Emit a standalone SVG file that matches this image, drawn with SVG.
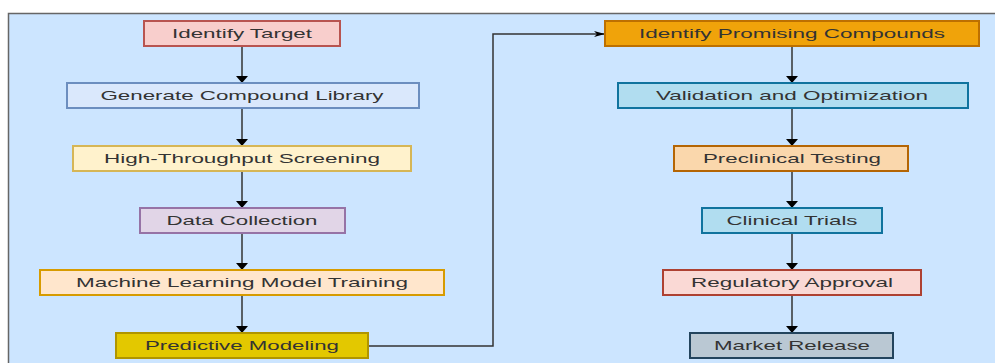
<svg xmlns="http://www.w3.org/2000/svg" width="995" height="363" viewBox="0 0 995 363">
<defs>
<style>
.bx{stroke-width:2}
.t{font-family:"Liberation Sans",Arial,sans-serif;font-size:13px;fill:#333;text-anchor:middle}
.c{stroke:#333;stroke-width:1.5;fill:none}
</style>
<marker id="av" markerUnits="userSpaceOnUse" markerWidth="12" markerHeight="7" refX="6" refY="7" orient="0" viewBox="0 0 12 7"><path d="M0,0 L12,0 L6,7 Z" fill="#000"/></marker>
<marker id="ah" markerUnits="userSpaceOnUse" markerWidth="11" markerHeight="6" refX="11" refY="3" orient="0" viewBox="0 0 11 6"><path d="M0,0 L11,3 L0,6 L3,3 Z" fill="#000"/></marker>
</defs>
<rect x="8.5" y="13.5" width="1000" height="400" fill="#cce5ff" stroke="#666" stroke-width="1.5"/>
<g id="connectors">
<path class="c" d="M242,46 V83" marker-end="url(#av)"/>
<path class="c" d="M242,108 V146" marker-end="url(#av)"/>
<path class="c" d="M242,171 V208" marker-end="url(#av)"/>
<path class="c" d="M242,233 V270" marker-end="url(#av)"/>
<path class="c" d="M242,295 V333" marker-end="url(#av)"/>
<path class="c" d="M368,346 H493 V34 H605" marker-end="url(#ah)"/>
<path class="c" d="M792,46 V83" marker-end="url(#av)"/>
<path class="c" d="M792,108 V146" marker-end="url(#av)"/>
<path class="c" d="M792,171 V208" marker-end="url(#av)"/>
<path class="c" d="M792,233 V270" marker-end="url(#av)"/>
<path class="c" d="M792,295 V333" marker-end="url(#av)"/>
</g>
<g id="n1"><rect class="bx" x="144" y="21" width="196" height="25" fill="#f8cecc" stroke="#b85450"/><text class="t" x="242" y="38" textLength="140" lengthAdjust="spacingAndGlyphs">Identify Target</text></g>
<g id="n2"><rect class="bx" x="67" y="83" width="352" height="25" fill="#dae8fc" stroke="#6c8ebf"/><text class="t" x="242" y="100" textLength="283" lengthAdjust="spacingAndGlyphs">Generate Compound Library</text></g>
<g id="n3"><rect class="bx" x="73" y="146" width="338" height="25" fill="#fff2cc" stroke="#d6b656"/><text class="t" x="242" y="163" textLength="276" lengthAdjust="spacingAndGlyphs">High-Throughput Screening</text></g>
<g id="n4"><rect class="bx" x="140" y="208" width="205" height="25" fill="#e1d5e7" stroke="#9673a6"/><text class="t" x="242" y="225" textLength="151" lengthAdjust="spacingAndGlyphs">Data Collection</text></g>
<g id="n5"><rect class="bx" x="40" y="270" width="404" height="25" fill="#ffe6cc" stroke="#d79b00"/><text class="t" x="242" y="287" textLength="332" lengthAdjust="spacingAndGlyphs">Machine Learning Model Training</text></g>
<g id="n6"><rect class="bx" x="116" y="333" width="252" height="25" fill="#e3c800" stroke="#b09500"/><text class="t" x="242" y="350" textLength="194" lengthAdjust="spacingAndGlyphs">Predictive Modeling</text></g>
<g id="n7"><rect class="bx" x="605" y="21" width="374" height="25" fill="#f0a30a" stroke="#bd7000"/><text class="t" x="792" y="38" textLength="306" lengthAdjust="spacingAndGlyphs">Identify Promising Compounds</text></g>
<g id="n8"><rect class="bx" x="618" y="83" width="350" height="25" fill="#b1ddf0" stroke="#10739e"/><text class="t" x="792" y="100" textLength="272" lengthAdjust="spacingAndGlyphs">Validation and Optimization</text></g>
<g id="n9"><rect class="bx" x="674" y="146" width="234" height="25" fill="#fad7ac" stroke="#b46504"/><text class="t" x="792" y="163" textLength="178" lengthAdjust="spacingAndGlyphs">Preclinical Testing</text></g>
<g id="n10"><rect class="bx" x="702" y="208" width="180" height="25" fill="#b1ddf0" stroke="#10739e"/><text class="t" x="792" y="225" textLength="131" lengthAdjust="spacingAndGlyphs">Clinical Trials</text></g>
<g id="n11"><rect class="bx" x="663" y="270" width="258" height="25" fill="#fad9d5" stroke="#ae4132"/><text class="t" x="792" y="287" textLength="202" lengthAdjust="spacingAndGlyphs">Regulatory Approval</text></g>
<g id="n12"><rect class="bx" x="690" y="333" width="203" height="25" fill="#bac8d3" stroke="#23445d"/><text class="t" x="792" y="350" textLength="156" lengthAdjust="spacingAndGlyphs">Market Release</text></g>
</svg>
